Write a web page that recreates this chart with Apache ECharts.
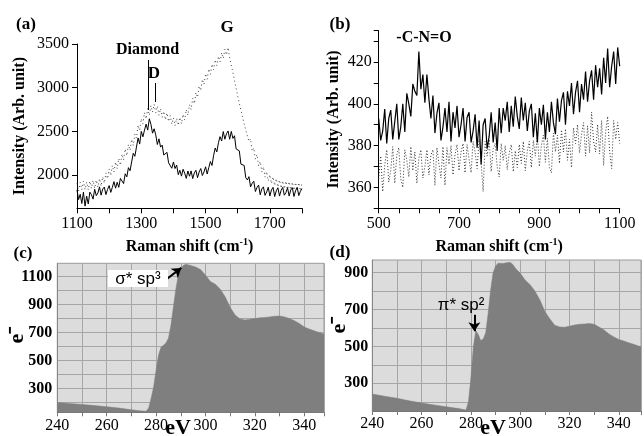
<!DOCTYPE html>
<html><head><meta charset="utf-8">
<script src="https://cdn.jsdelivr.net/npm/echarts@6/dist/echarts.min.js"></script>
<style>html,body{margin:0;padding:0;background:#fff}#c{width:644px;height:436px}</style>
</head><body><div id="c"></div>
<script>
// ---- Panel (a): Raman, 1100-1800 cm-1, sampled every 5 cm-1
const ramanA_x0 = 1100, ramanA_step = 5;
const ramanA_solid = [
1830,1720,1780,1675,1805,1645,1760,1670,1805,1775,1725,1838,1765,1795,1865,1770,1840,1863,1777,1836,
1880,1802,1860,1925,1850,1918,1860,1962,1950,1903,2015,1980,2085,2050,2150,2250,2215,2320,2425,2355,
2500,2438,2515,2583,2515,2645,2580,2480,2530,2460,2350,2415,2320,2343,2230,2252,2260,2140,2155,2078,
2150,2075,2115,2005,2055,1988,2067,2022,1962,2047,1987,2048,1960,2025,2055,1970,2035,2075,1995,2035,
2095,2012,2085,2155,2110,2225,2310,2265,2370,2440,2390,2498,2410,2473,2505,2410,2500,2420,2450,2300,
2295,2277,2125,2140,2110,1970,1945,1982,1865,1907,1930,1812,1860,1885,1775,1842,1865,1768,1807,1861,
1760,1830,1860,1755,1820,1855,1760,1825,1860,1770,1800,1855,1760,1830,1855,1755,1820,1860,1765,1815,
1845];
const ramanA_dotted = [
1905,1817,1915,1832,1930,1832,1920,1832,1930,1847,
1940,1849,1943,1862,1960,1873,1980,1907,2025,1958,
2070,1995,2110,2035,2150,2073,2190,2112,2240,2173,
2300,2222,2350,2283,2410,2338,2470,2425,2570,2510,
2645,2587,2715,2643,2760,2685,2795,2720,2810,2713,
2790,2685,2760,2662,2730,2633,2710,2612,2680,2583,
2655,2565,2650,2570,2660,2587,2695,2630,2750,2685,
2805,2750,2880,2817,2945,2890,3020,2967,3095,3037,
3160,3097,3215,3153,3270,3205,3320,3253,3360,3295,
3400,3335,3440,3375,3460,3340,3360,3175,3170,2993,
2995,2823,2830,2663,2675,2515,2535,2385,2415,2273,
2310,2183,2235,2105,2155,2035,2095,1977,2040,1933,
2005,1903,1980,1880,1960,1863,1945,1850,1935,1843,
1930,1837,1925,1833,1920,1827,1915,1824,1913,1821,
1905];
const ticksA_y = [2000, 2500, 3000, 3500];

// ---- Panel (b): Raman, 500-1100 cm-1, sampled every 5 cm-1
const ramanB_x0 = 500, ramanB_step = 5;
const ramanB_solid = [
393,382.5,387,397.5,381,393,397,383,391.5,400,
383,389,400,386.5,405,400,394,409.5,406,404,
425,407,414,400.5,414,402.5,393,404,386,395.5,
400.5,382.5,389,398,386.5,401,382,396,388.5,399,
384,390,398,382,393.5,396,381.5,387,395,379,
392,371,390,393,378.5,384.5,396,381.5,391,377.5,
398,386,398,392,401,386.5,399,389,403.5,394,
388,403,392,400.5,387,396.5,400,384,395.5,381.5,
398,390,399.5,383,396,386.5,401,391,385.5,402.5,
391.5,401.5,405.5,390,406,399,410,395,405.5,411,
396,409.5,402,415.5,401,411,416,402,418.5,408,
417,404.5,422,410,426.5,408,418,425,409.5,427,
418];
const ramanB_dotted = [
364,375,358,370.5,378,362.5,368,379.5,362,375.5,
379,364,360,378,373,365,379.5,368,377,362,
374,378,364.5,370,378,366,375.5,378,361,379,
371,364.5,379.5,361,379,371,380,366,375.5,380.5,
368,377,381,367,380.5,373.5,367,382,377,369,
383,372,358,382,375,383,367.5,378.5,381,370,
365,381,373,380,368.5,376.5,380.5,367.5,377.5,369.5,
380.5,371.5,382,368,377.5,382,369.5,382.5,375,385,
370,380,385,372,383.5,369.5,367,386,377,385,
371.5,387.5,377,388,373,383,369.5,388.5,381,390,
376.5,385.5,391,375,389.5,376.5,396,382,377,390,
376,392,370.5,386.5,394,377,369,392,383,391,
381];

// ---- Panel (c): NEXAFS, eV vs e-
const nexC_eV = [240,245,250,255,260,265,270,274,276,277,278,279,280,281,282,283,284,285,286,287,288,289,290,291,292,294,296,298,300,302,304,306,308,310,312,314,316,318,320,322,324,326,328,330,332,334,336,338,340,342,344,346,348];
const nexC_e  = [200,193,186,178,170,160,148,140,138,160,230,310,430,540,595,610,625,660,750,880,1010,1110,1160,1180,1188,1180,1168,1150,1110,1065,1045,1010,955,880,825,797,790,795,800,805,808,812,816,818,812,800,785,765,740,725,712,700,690];
const ticksC_y = [200,300,400,500,600,700,800,900,1000,1100];
const labelsC_y = [300,500,700,900,1100];

// ---- Panel (d): NEXAFS, eV vs e-
const nexD_eV = [240,245,250,255,260,265,270,275,278,279,280,281,282,283,284,285,286,287,288,289,290,291,293,295,296,297,298,300,302,304,306,308,310,312,314,316,318,320,322,324,326,328,330,332,334,336,338,340,342,344,346,348,349];
const nexD_e  = [242,230,219,205,193,183,173,163,155,200,330,500,585,565,532,540,575,680,806,900,935,952,950,955,956,945,925,897,860,835,800,752,690,650,615,606,604,610,616,620,622,624,620,605,590,568,552,538,530,520,512,502,498];
const ticksD_y = [200,300,400,500,600,700,800,900];
const labelsD_y = [300,500,700,900];

const SERIF = '"Liberation Serif","Times New Roman",serif';
const SANS = '"Liberation Sans",Arial,sans-serif';

function pairs(x0, step, ys){ return ys.map((v,i)=>[x0+i*step, v]); }
function zipXY(xs, ys){ return xs.map((x,i)=>[x, ys[i]]); }

const ramanName = '{t|Raman shift (cm}{s|-1}{t|)}';
const ramanRich = {
  t:{fontFamily:SERIF,fontWeight:'bold',fontSize:16,color:'#000',lineHeight:20},
  s:{fontFamily:SERIF,fontWeight:'bold',fontSize:10,color:'#000',verticalAlign:'top',lineHeight:10}
};

const chart = echarts.init(document.getElementById('c'), null, {renderer:'canvas'});
const blackAxis = {lineStyle:{color:'#000',width:1}};
const option = {
  animation:false,
  backgroundColor:'#fff',
  grid:[
    {left:77, top:44, width:225, height:164.3},
    {left:378.7, top:30.7, width:241, height:177.6},
    {left:57.3, top:263.3, width:266.7, height:149, show:true, backgroundColor:'#dcdcdc', borderColor:'#9a9a9a', borderWidth:1},
    {left:372.3, top:260, width:272, height:151, show:true, backgroundColor:'#dcdcdc', borderColor:'#9a9a9a', borderWidth:1}
  ],
  xAxis:[
    {gridIndex:0,type:'value',min:1100,max:1800,interval:100,
     axisLine:{show:true,...blackAxis},axisTick:{show:true,length:5,lineStyle:{color:'#000'}},
     axisLabel:{formatter:v=>((v-1100)%200===0&&v<1800)?String(v):'',color:'#000',fontSize:16,fontFamily:SERIF,margin:7},
     splitLine:{show:false},
     name:ramanName,nameLocation:'middle',nameGap:29,nameTextStyle:{rich:ramanRich}},
    {gridIndex:1,type:'value',min:500,max:1100,interval:50,
     axisLine:{show:true,...blackAxis},axisTick:{show:true,length:5,lineStyle:{color:'#000'}},
     axisLabel:{formatter:v=>((v-500)%200===0)?String(v):'',color:'#000',fontSize:16,fontFamily:SERIF,margin:7},
     splitLine:{show:false},
     name:ramanName,nameLocation:'middle',nameGap:29,nameTextStyle:{rich:ramanRich}},
    {gridIndex:2,type:'value',min:240,max:348,interval:10,
     axisLine:{show:true,lineStyle:{color:'#777'}},axisTick:{show:true,length:4,lineStyle:{color:'#777'}},
     axisLabel:{formatter:v=>((v-240)%20===0)?String(v):'',color:'#000',fontSize:16,fontFamily:SERIF,margin:5},
     splitLine:{show:true,lineStyle:{color:'#a6a6a6',width:1}}},
    {gridIndex:3,type:'value',min:240,max:349,interval:10,
     axisLine:{show:true,lineStyle:{color:'#777'}},axisTick:{show:true,length:4,lineStyle:{color:'#777'}},
     axisLabel:{formatter:v=>((v-240)%20===0)?String(v):'',color:'#000',fontSize:16,fontFamily:SERIF,margin:5},
     splitLine:{show:true,lineStyle:{color:'#a6a6a6',width:1}}}
  ],
  yAxis:[
    {gridIndex:0,type:'value',min:1620,max:3500,
     axisLine:{show:true,...blackAxis},axisTick:{show:true,length:5,customValues:ticksA_y,lineStyle:{color:'#000'}},
     axisLabel:{customValues:ticksA_y,formatter:v=>String(v),color:'#000',fontSize:16,fontFamily:SERIF,margin:8},
     splitLine:{show:false},
     name:'Intensity (Arb. unit)',nameLocation:'middle',nameGap:49,
     nameTextStyle:{fontFamily:SERIF,fontWeight:'bold',fontSize:16,color:'#000'}},
    {gridIndex:1,type:'value',min:350,max:435,interval:10,
     axisLine:{show:true,...blackAxis},axisTick:{show:true,length:5,lineStyle:{color:'#000'}},
     axisLabel:{formatter:v=>(v%20===0&&v>=360)?String(v):'',color:'#000',fontSize:16,fontFamily:SERIF,margin:7},
     splitLine:{show:false},
     name:'Intensity (Arb. unit)',nameLocation:'middle',nameGap:37,
     nameTextStyle:{fontFamily:SERIF,fontWeight:'bold',fontSize:16,color:'#000'}},
    {gridIndex:2,type:'value',min:130,max:1195,
     axisLine:{show:true,lineStyle:{color:'#888'}},axisTick:{show:false,customValues:ticksC_y},
     axisLabel:{customValues:ticksC_y,formatter:v=>labelsC_y.includes(v)?String(v):'',color:'#000',fontSize:16,fontWeight:'bold',fontFamily:SERIF,margin:5},
     splitLine:{show:true,lineStyle:{color:'#a6a6a6',width:1}}},
    {gridIndex:3,type:'value',min:150,max:969,
     axisLine:{show:true,lineStyle:{color:'#888'}},axisTick:{show:false,customValues:ticksD_y},
     axisLabel:{customValues:ticksD_y,formatter:v=>labelsD_y.includes(v)?String(v):'',color:'#000',fontSize:16,fontWeight:'bold',fontFamily:SERIF,margin:4},
     splitLine:{show:true,lineStyle:{color:'#a6a6a6',width:1}}}
  ],
  series:[
    {type:'line',xAxisIndex:0,yAxisIndex:0,data:pairs(ramanA_x0,ramanA_step,ramanA_dotted),
     showSymbol:false,lineStyle:{color:'#444',width:1,type:[1,3]},z:2},
    {type:'line',xAxisIndex:0,yAxisIndex:0,data:pairs(ramanA_x0,ramanA_step,ramanA_solid),
     showSymbol:false,lineStyle:{color:'#000',width:1},z:3,
     markLine:{silent:true,symbol:['none','none'],label:{show:false},lineStyle:{color:'#000',width:1,type:'solid'},
       data:[[{coord:[1322,3317]},{coord:[1322,2745]}],[{coord:[1342,3054]},{coord:[1342,2836]}]]}},
    {type:'line',xAxisIndex:1,yAxisIndex:1,data:pairs(ramanB_x0,ramanB_step,ramanB_dotted),
     showSymbol:false,lineStyle:{color:'#333',width:1,type:[1,2]},z:2},
    {type:'line',xAxisIndex:1,yAxisIndex:1,data:pairs(ramanB_x0,ramanB_step,ramanB_solid),
     showSymbol:false,lineStyle:{color:'#000',width:1.2},z:3},
    {type:'line',xAxisIndex:2,yAxisIndex:2,data:zipXY(nexC_eV,nexC_e),
     showSymbol:false,lineStyle:{color:'#7f7f7f',width:0.5},areaStyle:{color:'#7f7f7f',opacity:1,origin:'start'},z:2,
     markLine:{silent:true,symbol:['none','arrow'],symbolSize:9,label:{show:false},lineStyle:{color:'#000',width:2,type:'solid'},
       data:[[{coord:[284.1,1079]},{coord:[290.2,1162]}]]}},
    {type:'line',xAxisIndex:3,yAxisIndex:3,data:zipXY(nexD_eV,nexD_e),
     showSymbol:false,lineStyle:{color:'#7f7f7f',width:0.5},areaStyle:{color:'#7f7f7f',opacity:1,origin:'start'},z:2,
     markLine:{silent:true,symbol:['none','arrow'],symbolSize:9,label:{show:false},lineStyle:{color:'#000',width:2,type:'solid'},
       data:[[{coord:[281.4,672]},{coord:[281.4,582]}]]}}
  ],
  graphic:[
    {type:'text',x:26,y:25,z:10,style:{text:'(a)',font:'bold 17px '+SERIF,fill:'#000',align:'center',verticalAlign:'middle'}},
    {type:'text',x:340,y:25,z:10,style:{text:'(b)',font:'bold 17px '+SERIF,fill:'#000',align:'center',verticalAlign:'middle'}},
    {type:'text',x:23,y:254,z:10,style:{text:'(c)',font:'bold 17px '+SERIF,fill:'#000',align:'center',verticalAlign:'middle'}},
    {type:'text',x:340,y:253,z:10,style:{text:'(d)',font:'bold 17px '+SERIF,fill:'#000',align:'center',verticalAlign:'middle'}},
    {type:'text',x:147.5,y:50,z:10,style:{text:'Diamond',font:'bold 16px '+SERIF,fill:'#000',align:'center',verticalAlign:'middle'}},
    {type:'text',x:154,y:74,z:10,style:{text:'D',font:'bold 17px '+SERIF,fill:'#000',align:'center',verticalAlign:'middle'}},
    {type:'text',x:227,y:28,z:10,style:{text:'G',font:'bold 17px '+SERIF,fill:'#000',align:'center',verticalAlign:'middle'}},
    {type:'text',x:424,y:38,z:10,style:{text:'-C-N=O',font:'bold 16px '+SERIF,fill:'#000',align:'center',verticalAlign:'middle'}},
    {type:'rect',z:10,shape:{x:108,y:270,width:60,height:17},style:{fill:'#fff'}},
    {type:'text',x:138,y:279,z:11,style:{text:'σ* sp³',font:'17px '+SANS,fill:'#000',align:'center',verticalAlign:'middle'}},
    {type:'text',x:461,y:305,z:11,style:{text:'π* sp²',font:'17px '+SANS,fill:'#000',align:'center',verticalAlign:'middle'}},
    {type:'text',x:178,y:428,z:10,style:{text:'eV',font:'bold 22px '+SERIF,fill:'#000',align:'center',verticalAlign:'middle'}},
    {type:'text',x:493,y:428,z:10,style:{text:'eV',font:'bold 22px '+SERIF,fill:'#000',align:'center',verticalAlign:'middle'}},
    {type:'text',x:17,y:335,z:10,rotation:Math.PI/2,style:{text:'e⁻',font:'bold 22px '+SERIF,fill:'#000',align:'center',verticalAlign:'middle'}},
    {type:'text',x:339,y:325,z:10,rotation:Math.PI/2,style:{text:'e⁻',font:'bold 22px '+SERIF,fill:'#000',align:'center',verticalAlign:'middle'}}
  ]
};
chart.setOption(option);
</script>
</body></html>
